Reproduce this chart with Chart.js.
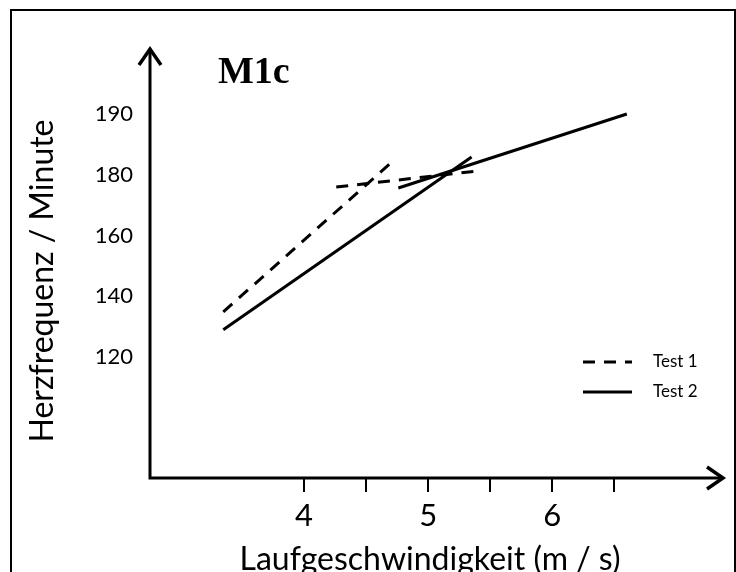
<!DOCTYPE html>
<html>
<head>
<meta charset="utf-8">
<title>M1c</title>
<script src="https://cdn.jsdelivr.net/npm/chart.js@4.4.1/dist/chart.umd.min.js"></script>
<style>
  html, body { margin: 0; padding: 0; background: #fff; overflow: hidden; }
  #wrap { position: relative; width: 736px; height: 572px; }
  #frame { position: absolute; left: 10px; top: 9px; width: 722px; height: 600px; border: 2px solid #000; }
  canvas { position: absolute; left: 0; top: 0; }
</style>
</head>
<body>
<div id="wrap">
  <div id="frame"></div>
  <canvas id="chart" width="736" height="572"></canvas>
</div>
<script>
// Data
const panelTitle = 'M1c';
const xTitle = 'Laufgeschwindigkeit (m / s)';
const yTitle = 'Herzfrequenz / Minute';
const seriesNames = ['Test 1', 'Test 2'];

const xTickValues = [4, 4.5, 5, 5.5, 6, 6.5];
// the top tick is drawn at the spacing of 200 but labelled 190 in the source
const yTickPositions = [120, 140, 160, 180, 200];
const yTickLabels = ['120', '140', '160', '180', '190'];

// Test 1 (dashed): two separate line pieces
const test1SpeedA = [3.35, 4.69];
const test1HrA = [134.8, 183.6];
const test1SpeedB = [4.26, 5.40];
const test1HrB = [176.0, 181.3];

// Test 2 (solid): two separate line pieces
const test2SpeedA = [3.35, 5.35];
const test2HrA = [128.9, 185.9];
const test2SpeedB = [4.76, 6.60];
const test2HrB = [175.7, 200.1];

const dashPattern = [12, 9];

function toPoints(xs, ys) {
  return xs.map((x, i) => ({ x: x, y: ys[i] }));
}

function lineSet(label, xs, ys, dash) {
  return {
    label: label,
    data: toPoints(xs, ys),
    showLine: true,
    borderColor: '#000',
    borderWidth: 3,
    borderDash: dash,
    borderCapStyle: 'butt',
    pointRadius: 0,
    fill: false
  };
}

// Axes with arrows, panel label and legend
const sketchPlugin = {
  id: 'sketch',
  afterDraw(chart) {
    const ctx = chart.ctx;
    const area = chart.chartArea;
    const x0 = area.left;
    const y0 = area.bottom;
    const yTip = 47;
    const xTip = 725;

    ctx.save();
    ctx.strokeStyle = '#000';
    ctx.lineWidth = 3;
    ctx.lineJoin = 'miter';

    // axis lines
    ctx.beginPath();
    ctx.moveTo(x0, y0 + 1.5);
    ctx.lineTo(x0, yTip + 2);
    ctx.moveTo(x0 - 1.5, y0);
    ctx.lineTo(xTip - 2, y0);
    ctx.stroke();

    // arrow heads
    ctx.lineWidth = 3.5;
    ctx.beginPath();
    ctx.moveTo(x0 - 11, yTip + 18);
    ctx.lineTo(x0, yTip + 2);
    ctx.lineTo(x0 + 11, yTip + 18);
    ctx.moveTo(xTip - 18, y0 - 11);
    ctx.lineTo(xTip - 2, y0);
    ctx.lineTo(xTip - 18, y0 + 11);
    ctx.stroke();

    // panel label
    ctx.fillStyle = '#000';
    ctx.font = 'bold 38px "Liberation Serif"';
    ctx.textBaseline = 'alphabetic';
    ctx.textAlign = 'left';
    ctx.fillText(panelTitle, 218, 83);

    // legend
    ctx.font = '17px Lato';
    ctx.textBaseline = 'middle';
    seriesNames.forEach((name, i) => {
      const ds = chart.data.datasets.find(d => d.label === name);
      const ly = 362 + i * 30;
      ctx.lineWidth = ds.borderWidth;
      ctx.setLineDash(ds.borderDash || []);
      ctx.beginPath();
      ctx.moveTo(583, ly);
      ctx.lineTo(632, ly);
      ctx.stroke();
      ctx.setLineDash([]);
      ctx.fillText(name, 653, ly);
    });
    ctx.restore();
  }
};

const ctx = document.getElementById('chart').getContext('2d');

new Chart(ctx, {
  type: 'scatter',
  data: {
    datasets: [
      lineSet(seriesNames[0], test1SpeedA, test1HrA, dashPattern),
      lineSet(seriesNames[0], test1SpeedB, test1HrB, dashPattern),
      lineSet(seriesNames[1], test2SpeedA, test2HrA, []),
      lineSet(seriesNames[1], test2SpeedB, test2HrB, [])
    ]
  },
  options: {
    responsive: false,
    animation: false,
    layout: { padding: { top: 84, right: 26, left: 0, bottom: 0 } },
    plugins: {
      legend: { display: false },
      tooltip: { enabled: false }
    },
    scales: {
      x: {
        type: 'linear',
        min: 2.76,
        max: 7.27,
        afterBuildTicks: s => { s.ticks = xTickValues.map(v => ({ value: v })); },
        afterFit: s => { s.height = 94; },
        grid: { drawOnChartArea: false, drawTicks: true, tickLength: 14, color: '#000', lineWidth: 2 },
        border: { display: false },
        ticks: {
          autoSkip: false,
          maxRotation: 0,
          padding: 5,
          color: '#000',
          font: { family: 'Lato', size: 31 },
          callback: v => Number.isInteger(v) ? String(v) : ''
        },
        title: {
          display: true,
          text: xTitle,
          color: '#000',
          font: { family: 'Lato', size: 32, lineHeight: 0.8 },
          padding: { top: 0, bottom: 0 }
        }
      },
      y: {
        type: 'linear',
        min: 80,
        max: 210,
        afterBuildTicks: s => { s.ticks = yTickPositions.map(v => ({ value: v })); },
        afterFit: s => { s.width = 150; },
        grid: { display: false, drawTicks: false },
        border: { display: false },
        ticks: {
          padding: 17,
          color: '#000',
          font: { family: 'Lato', size: 22 },
          callback: (v, i) => yTickLabels[i]
        },
        title: {
          display: true,
          text: yTitle,
          color: '#000',
          font: { family: 'Lato', size: 32, lineHeight: 1.2 },
          padding: { top: 23, bottom: 0 }
        }
      }
    }
  },
  plugins: [sketchPlugin]
});
</script>
</body>
</html>
